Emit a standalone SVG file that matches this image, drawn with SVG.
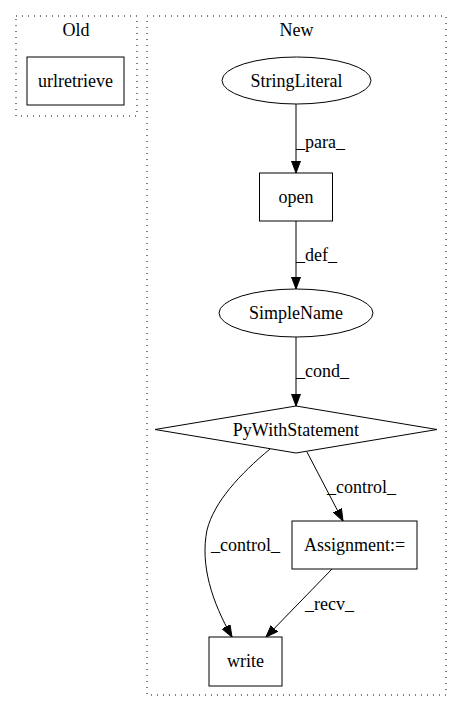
<svg xmlns="http://www.w3.org/2000/svg" width="461" height="712" viewBox="0 0 461 712">
<style>
text{font-family:"Liberation Serif","Times New Roman",serif;font-size:18px;fill:#000}
.n{text-anchor:middle}
.shape{fill:none;stroke:#000;stroke-width:1}
.cl{fill:none;stroke:#000;stroke-width:1;stroke-dasharray:1,5}
.e{fill:none;stroke:#000;stroke-width:1}
</style>
<defs>
<marker id="ah" markerWidth="12" markerHeight="12" refX="12" refY="4.5" orient="auto" markerUnits="userSpaceOnUse">
<polygon points="0,0 12,4.5 0,9" fill="#000" stroke="#000"/>
</marker>
</defs>
<rect width="461" height="712" fill="#fff"/>
<g id="cluster_old">
<rect class="cl" x="16" y="16" width="121" height="100"/>
<text class="n" x="76" y="36">Old</text>
</g>
<g id="cluster_new">
<rect class="cl" x="147" y="16" width="299" height="679"/>
<text class="n" x="296.5" y="36">New</text>
</g>
<g id="urlretrieve">
<rect class="shape" x="27" y="57" width="97" height="48"/>
<text class="n" x="75.5" y="87">urlretrieve</text>
</g>
<g id="StringLiteral">
<ellipse class="shape" cx="296.5" cy="80.5" rx="74.5" ry="23.5"/>
<text class="n" x="296.5" y="87">StringLiteral</text>
</g>
<g id="open">
<rect class="shape" x="259.5" y="173" width="73" height="48"/>
<text class="n" x="296" y="203">open</text>
</g>
<g id="SimpleName">
<ellipse class="shape" cx="296" cy="313" rx="77" ry="24"/>
<text class="n" x="296" y="319">SimpleName</text>
</g>
<g id="PyWithStatement">
<polygon class="shape" points="296,406 437,429.5 296,453 155,429.5"/>
<text class="n" x="296" y="435.5">PyWithStatement</text>
</g>
<g id="Assignment">
<rect class="shape" x="292" y="521" width="125" height="48"/>
<text class="n" x="354.5" y="551">Assignment:=</text>
</g>
<g id="write">
<rect class="shape" x="209" y="637" width="73" height="49"/>
<text class="n" x="245.5" y="667">write</text>
</g>
<g id="connectors">
<line class="e" x1="296" y1="104" x2="296" y2="173" marker-end="url(#ah)"/>
<text x="296" y="148">_para_</text>
<line class="e" x1="296" y1="221" x2="296" y2="289" marker-end="url(#ah)"/>
<text x="296" y="261">_def_</text>
<line class="e" x1="296" y1="337" x2="296" y2="406" marker-end="url(#ah)"/>
<text x="296" y="377">_cond_</text>
<line class="e" x1="307" y1="452" x2="343" y2="521" marker-end="url(#ah)"/>
<text x="327" y="493">_control_</text>
<path class="e" d="M270,449 C240,474 214,502 207,530 C200,565 212,602 232,637" marker-end="url(#ah)"/>
<text x="211" y="551">_control_</text>
<line class="e" x1="332" y1="569" x2="266" y2="637" marker-end="url(#ah)"/>
<text x="305" y="610">_recv_</text>
</g>
</svg>
